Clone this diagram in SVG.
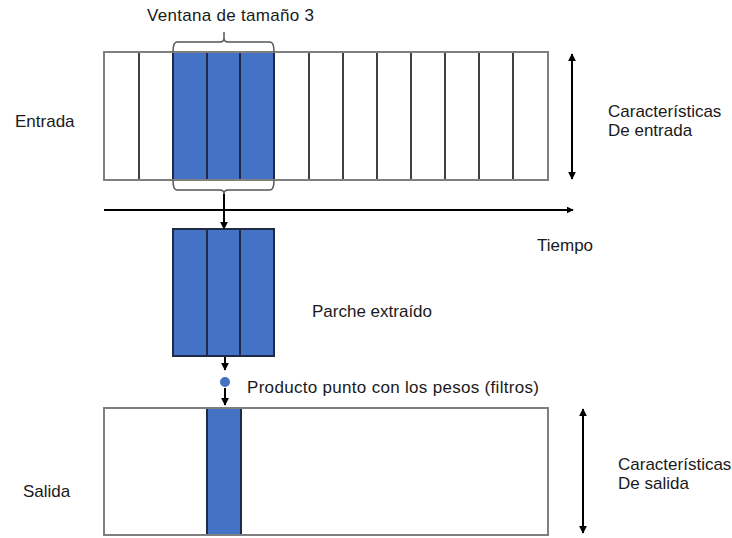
<svg xmlns="http://www.w3.org/2000/svg" width="732" height="538" viewBox="0 0 732 538">
<defs>
<marker id="ah" viewBox="0 0 10 10" refX="9" refY="5" markerWidth="4" markerHeight="4" orient="auto-start-reverse" markerUnits="strokeWidth">
<path d="M0,0 L10,5 L0,10 z" fill="#000"/>
</marker>
<marker id="ah2" viewBox="0 0 10 10" refX="9" refY="5" markerWidth="3.5" markerHeight="3.5" orient="auto-start-reverse" markerUnits="strokeWidth">
<path d="M0,0 L10,5 L0,10 z" fill="#000"/>
</marker>
</defs>
<style>
text{font-family:"Liberation Sans",Arial,sans-serif;font-size:17px;fill:#1a1a1a}
.cell{fill:#fff;stroke:#404040;stroke-width:2}
.blue{fill:#4472C4;stroke:#1f2a44;stroke-width:2}
.outer{fill:none;stroke:#7f7f7f;stroke-width:2}
.brace{fill:none;stroke:#555;stroke-width:1.5}
.conn{stroke:#000;stroke-width:2;fill:none}
</style>
<rect width="732" height="538" fill="#fff"/>

<g id="entrada">
<rect class="cell" x="104" y="52" width="444" height="128"/>
<g stroke="#404040" stroke-width="2">
<line x1="139" y1="52" x2="139" y2="180"/>
<line x1="309" y1="52" x2="309" y2="180"/>
<line x1="343" y1="52" x2="343" y2="180"/>
<line x1="377" y1="52" x2="377" y2="180"/>
<line x1="411" y1="52" x2="411" y2="180"/>
<line x1="445" y1="52" x2="445" y2="180"/>
<line x1="479" y1="52" x2="479" y2="180"/>
<line x1="513" y1="52" x2="513" y2="180"/>
</g>
<rect class="blue" x="173" y="52" width="34" height="128"/>
<rect class="blue" x="207" y="52" width="33" height="128"/>
<rect class="blue" x="240" y="52" width="34" height="128"/>
<rect class="outer" x="104" y="52" width="444" height="128"/>
<text x="15" y="127">Entrada</text>
</g>

<g id="ventana">
<path class="brace" d="M173,52 Q173,42 177,42 L220,42 Q224,42 224,38 L224,32 M224,38 Q224,42 228,42 L270,42 Q274,42 274,52"/>
<path class="brace" d="M173,180 Q173,190 177,190 L220,190 Q224,190 224,194 M224,194 Q224,190 228,190 L270,190 Q274,190 274,180"/>
<text x="147" y="21" textLength="167" lengthAdjust="spacing">Ventana de tamaño 3</text>
</g>

<g id="caracteristicas-entrada">
<text x="608" y="117">Características</text>
<text x="608" y="136">De entrada</text>
</g>

<g id="tiempo">
<text x="537" y="251">Tiempo</text>
</g>

<g id="parche">
<rect class="blue" x="173" y="229" width="34" height="127"/>
<rect class="blue" x="207" y="229" width="33" height="127"/>
<rect class="blue" x="240" y="229" width="34" height="127"/>
<text x="312" y="317">Parche extraído</text>
</g>

<g id="producto">
<circle cx="225" cy="382" r="5" fill="#4472C4"/>
<text x="247" y="393" textLength="292" lengthAdjust="spacing">Producto punto con los pesos (filtros)</text>
</g>

<g id="salida">
<rect class="cell" x="104" y="408" width="444" height="127" stroke="none"/>
<rect class="blue" x="207" y="408" width="34" height="127"/>
<rect class="outer" x="104" y="408" width="444" height="127"/>
<text x="23" y="497">Salida</text>
</g>

<g id="caracteristicas-salida">
<text x="618" y="470">Características</text>
<text x="618" y="489">De salida</text>
</g>

<g id="connectors">
<line class="conn" x1="104" y1="210" x2="573" y2="210" stroke-width="2.5" marker-end="url(#ah2)"/>
<line class="conn" x1="572" y1="54" x2="572" y2="179" marker-start="url(#ah)" marker-end="url(#ah)"/>
<line class="conn" x1="583" y1="409" x2="583" y2="533" marker-start="url(#ah)" marker-end="url(#ah)"/>
<line class="conn" x1="224" y1="194" x2="224" y2="229" marker-end="url(#ah)"/>
<line class="conn" x1="225" y1="357" x2="225" y2="370" marker-end="url(#ah)"/>
<line class="conn" x1="225" y1="388" x2="225" y2="405" marker-end="url(#ah)"/>
</g>
</svg>
